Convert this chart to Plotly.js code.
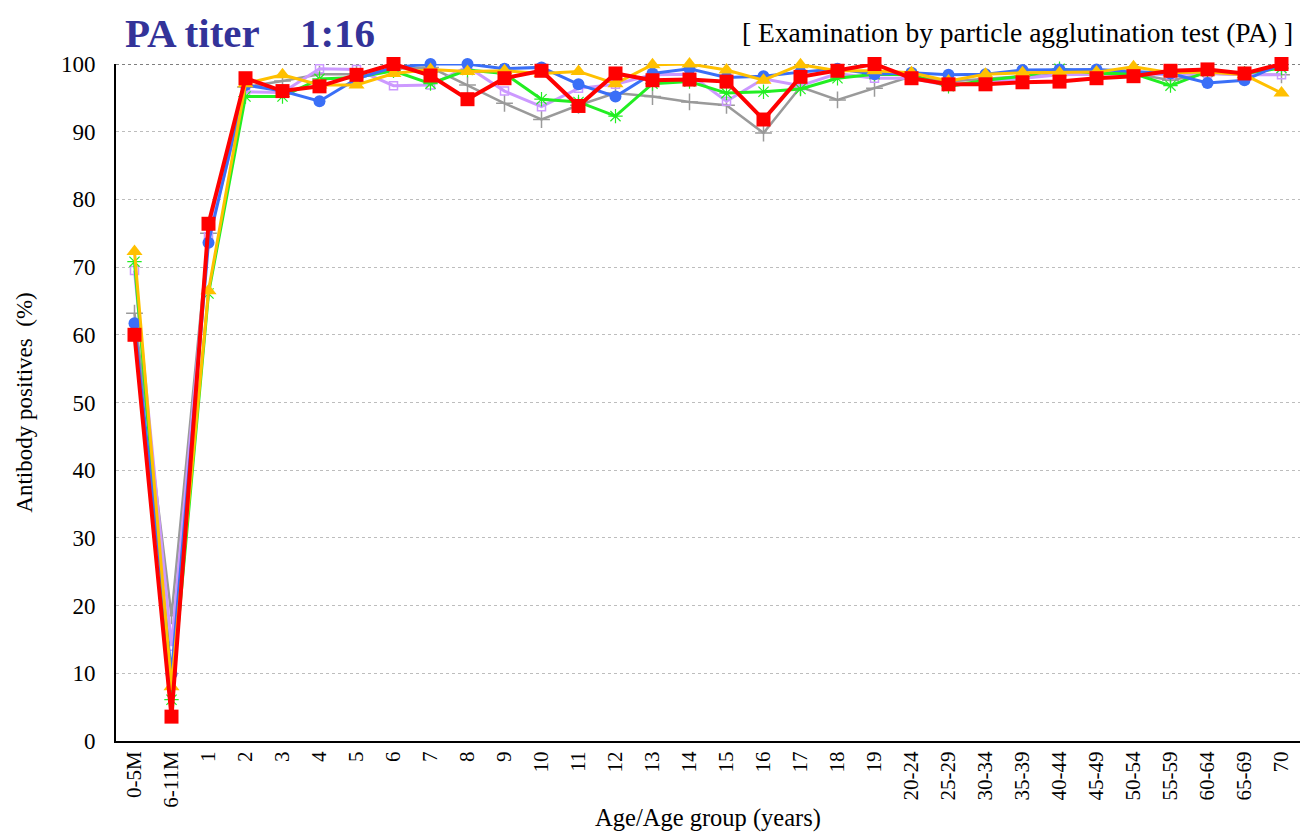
<!DOCTYPE html>
<html>
<head>
<meta charset="utf-8">
<script src="https://cdn.plot.ly/plotly-3.0.1.min.js"></script>
<style>html,body{margin:0;padding:0;background:#fff;}#chart{width:1300px;height:834px;}</style>
</head>
<body>
<div id="chart"></div>
<script>
const categories = ["0-5M","6-11M","1","2","3","4","5","6","7","8","9","10","11","12","13","14","15","16","17","18","19","20-24","25-29","30-34","35-39","40-44","45-49","50-54","55-59","60-64","65-69","70"];

const grayValues   = [63.2,18.5,75.0,96.6,97.5,98.5,98.5,99.3,99.5,96.9,94.2,91.8,93.9,95.7,95.2,94.4,93.9,89.8,96.6,94.7,96.4,98.2,97.4,97.8,98.2,98.4,98.5,98.6,97.6,98.6,98.4,98.4];
const purpleValues = [69.5,14.0,74.5,95.9,95.8,99.3,99.2,96.8,96.9,99.6,96.0,93.7,96.4,97.0,98.4,98.5,94.5,97.8,96.8,98.6,97.9,97.9,96.8,97.3,97.9,98.4,98.5,98.6,98.4,98.6,98.4,98.4];
const greenValues  = [70.8,6.1,66.1,95.2,95.2,97.8,98.0,99.0,97.1,99.1,98.6,94.8,94.4,92.3,97.1,97.4,95.7,95.9,96.3,97.9,98.5,98.4,96.7,97.6,98.2,99.3,98.6,98.6,96.8,98.9,98.6,99.4];
const blueValues   = [61.7,9.9,73.6,96.9,96.0,94.5,97.8,99.5,100,100,99.3,99.5,97.0,95.2,98.6,99.3,98.0,98.2,98.8,99.3,98.5,98.7,98.4,98.5,99.1,99.2,99.2,98.9,98.6,97.2,97.6,100];
const yellowValues = [72.3,8.0,66.5,97.1,98.4,96.9,96.9,98.6,99.2,98.9,99.0,98.6,98.9,97.1,99.9,100,99.1,97.6,99.9,99.0,99.0,98.7,97.5,98.5,98.7,98.7,98.8,99.6,98.7,98.8,98.4,95.7];
const redValues    = [60.0,3.6,76.4,97.9,96.0,96.7,98.4,100,98.3,94.8,97.9,99.0,93.8,98.6,97.6,97.7,97.4,91.8,98.1,99.0,100,97.9,97.0,97.0,97.3,97.4,97.9,98.2,99.0,99.2,98.6,100];

const yTicks = [0,10,20,30,40,50,60,70,80,90,100];

const FONT = "Liberation Serif, Times New Roman, serif";

function series(name, vals, color, width, symbol, size, mline) {
  return {
    type: "scatter", mode: "lines+markers", name: name,
    x: categories, y: vals, cliponaxis: false,
    line: {color: color, width: width},
    marker: {color: color, symbol: symbol, size: size, line: {color: color, width: mline}}
  };
}

const data = [
  series("Series 1", grayValues,   "#9a9a9a", 2.5, "cross-thin-open", 12, 1.5),
  series("Series 2", purpleValues, "#cc99ff", 3,   "square-open", 8, 1.5),
  series("Series 3", greenValues,  "#22ee22", 3,   "asterisk-open", 12, 1.2),
  series("Series 4", blueValues,   "#3a6ff7", 3,   "circle", 12, 0),
  series("Series 5", yellowValues, "#ffc000", 3,   "triangle-up", 14, 0),
  series("Series 6", redValues,    "#ff0000", 4,   "square", 14, 0)
];

const layout = {
  width: 1300, height: 834,
  margin: {l: 116, r: 0, t: 64, b: 93},
  paper_bgcolor: "#ffffff", plot_bgcolor: "#ffffff",
  showlegend: false,
  font: {family: FONT, color: "#000", size: 20},
  xaxis: {
    type: "category", range: [-0.5, 31.5],
    tickvals: categories, ticktext: categories,
    tickangle: -90, tickfont: {family: FONT, size: 21, color: "#000"},
    showgrid: false, zeroline: false,
    showline: true, linecolor: "#000", linewidth: 2,
    ticks: "",
    title: {text: "Age/Age group (years)", font: {family: FONT, size: 24.5, color: "#000"}, standoff: 2}
  },
  yaxis: {
    range: [0, 100], tickvals: yTicks,
    tickfont: {family: FONT, size: 23, color: "#000"},
    showgrid: true, gridcolor: "#bdbdbd", griddash: "dot", gridwidth: 1,
    zeroline: false, showline: true, linecolor: "#000", linewidth: 2,
    ticks: "", ticklabelstandoff: 14,
    title: {text: "Antibody positives  (%)", font: {family: FONT, size: 23, color: "#000"}, standoff: 22}
  },
  shapes: [
    {type: "line", xref: "paper", yref: "y", x0: 0, x1: 1, y0: 100, y1: 100,
     line: {color: "#555", width: 1.5, dash: "dot"}, layer: "below"}
  ],
  annotations: [
    {text: "<b>PA titer    1:16</b>", xref: "paper", yref: "paper", x: 0.006, y: 1.0, yshift: 31,
     xanchor: "left", yanchor: "middle", showarrow: false,
     font: {family: FONT, size: 41, color: "#333399"}},
    {text: "[ Examination by particle agglutination test (PA) ]", xref: "paper", yref: "paper", x: 0.996, y: 1.0, yshift: 32,
     xanchor: "right", yanchor: "middle", showarrow: false,
     font: {family: FONT, size: 27.5, color: "#000"}}
  ]
};

Plotly.newPlot("chart", data, layout, {displayModeBar: false, staticPlot: true});
</script>
</body>
</html>
